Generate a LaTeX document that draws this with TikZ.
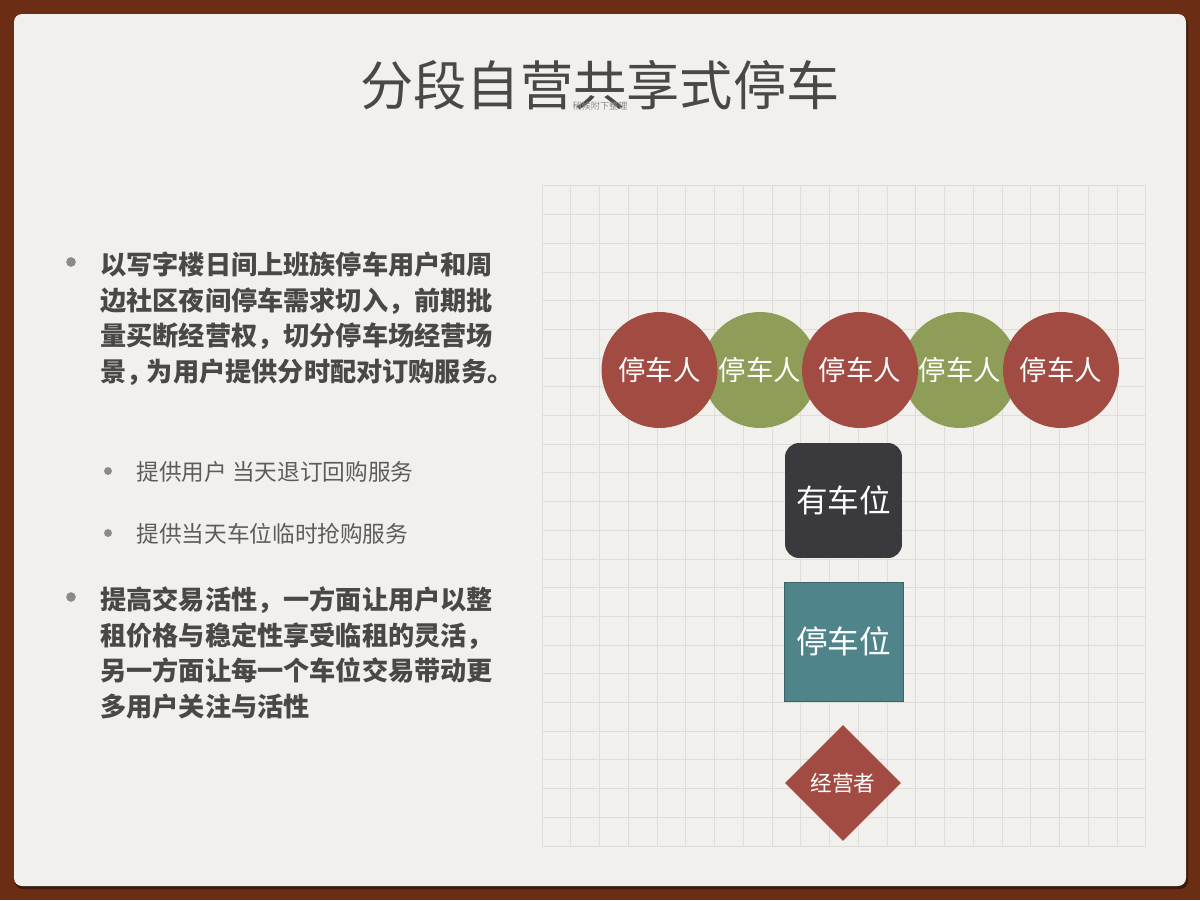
\documentclass[tikz,border=0pt]{standalone}
\usepackage{fontspec}
\setmainfont{Noto Sans CJK SC}
\usetikzlibrary{shapes.geometric}
\definecolor{wood}{HTML}{6B2E14}
\definecolor{paper}{HTML}{F1F0EC}
\definecolor{gridc}{HTML}{DEDDD9}
\definecolor{txt}{HTML}{4A4845}
\definecolor{subtxt}{HTML}{5E5C59}
\definecolor{dotc}{HTML}{8C8A87}
\definecolor{redc}{HTML}{A14B43}
\definecolor{greenc}{HTML}{8E9E58}
\definecolor{darkc}{HTML}{3A393D}
\definecolor{tealc}{HTML}{4F858A}
\newcommand{\halfp}[1]{\makebox[0.5em][l]{#1}}
\newcommand{\tqp}[1]{\makebox[0.78em][l]{#1}}
\begin{document}
\begin{tikzpicture}[x=0.02cm,y=-0.02cm,
  gridline/.style={draw=gridc, line width=0.5pt},
  person/.style={circle, minimum size=2.32cm, inner sep=0pt, text=white, font=\fontsize{15.6}{18}\selectfont},
  redp/.style={person, fill=redc},
  greenp/.style={person, fill=greenc},
  boxtext/.style={text=white, font=\fontsize{18}{21}\selectfont, inner sep=0pt},
  mainbullet/.style={anchor=west, align=left, inner sep=0pt, text=txt, font=\bfseries\fontsize{14.9}{20.2}\selectfont},
  subbullet/.style={anchor=west, inner sep=0pt, text=subtxt, font=\fontsize{12.9}{16}\selectfont},
  bigdot/.style={circle, fill=dotc, minimum size=5.5pt, inner sep=0pt},
  smalldot/.style={circle, fill=dotc, minimum size=4.5pt, inner sep=0pt}]
% background
\useasboundingbox (0,0) rectangle (1200,900);
\fill[wood] (0,0) rectangle (1200,900);
\fill[black!45!wood, rounded corners=0.16cm] (15,16) rectangle (1188,889);
\fill[paper, rounded corners=0.16cm] (14,14) rectangle (1186,886);
% grid
\foreach \i in {0,...,21} \draw[gridline] (542+\i*28.75,185.9) -- (542+\i*28.75,846);
\foreach \j in {0,...,23} \draw[gridline] (542,185.9+\j*28.7) -- (1145.75,185.9+\j*28.7);
% title
\node[text=txt, font=\fontsize{30.3}{34}\selectfont, inner sep=0pt] (title) at (600,85) {分段自营共享式停车};
\node[text=subtxt!70, font=\fontsize{5.2}{6}\selectfont, inner sep=0pt] (subtitle) at (600,106) {稍候附下整理};
% bullets
\node[bigdot] (d1) at (71,262) {};
\node[mainbullet] (b1) at (100,318.5) {以写字楼日间上班族停车用户和周\\边社区夜间停车需求切入，前期批\\量买断经营权，切分停车场经营场\\景\tqp{，}为用户提供分时配对订购服务\halfp{。}};
\node[smalldot] (d2) at (108,471) {};
\node[subbullet] (s1) at (136,472) {提供用户 当天退订回购服务};
\node[smalldot] (d3) at (108,533) {};
\node[subbullet] (s2) at (136,534) {提供当天车位临时抢购服务};
\node[bigdot] (d4) at (71,597) {};
\node[mainbullet] (b2) at (100,653) {提高交易活性，一方面让用户以整\\租价格与稳定性享受临租的灵活，\\另一方面让每一个车位交易带动更\\多用户关注与活性};
% diagram
\node[greenp] (p2) at (760,370) {停车人};
\node[greenp] (p4) at (960,370) {停车人};
\node[redp] (p1) at (659.5,370) {停车人};
\node[redp] (p3) at (860,370) {停车人};
\node[redp] (p5) at (1061,370) {停车人};
\node[boxtext, fill=darkc, rounded corners=0.28cm, minimum width=2.34cm, minimum height=2.3cm] (have) at (843.5,500.5) {有车位};
\node[boxtext, fill=tealc, draw=tealc!75!black, line width=0.4pt, minimum width=2.38cm, minimum height=2.38cm] (spot) at (843.5,641.5) {停车位};
\node[diamond, aspect=1, fill=redc, minimum width=2.32cm, minimum height=2.32cm, inner sep=0pt, text=white, font=\fontsize{12.3}{14}\selectfont] (op) at (843,783) {经营者};
\end{tikzpicture}
\end{document}
